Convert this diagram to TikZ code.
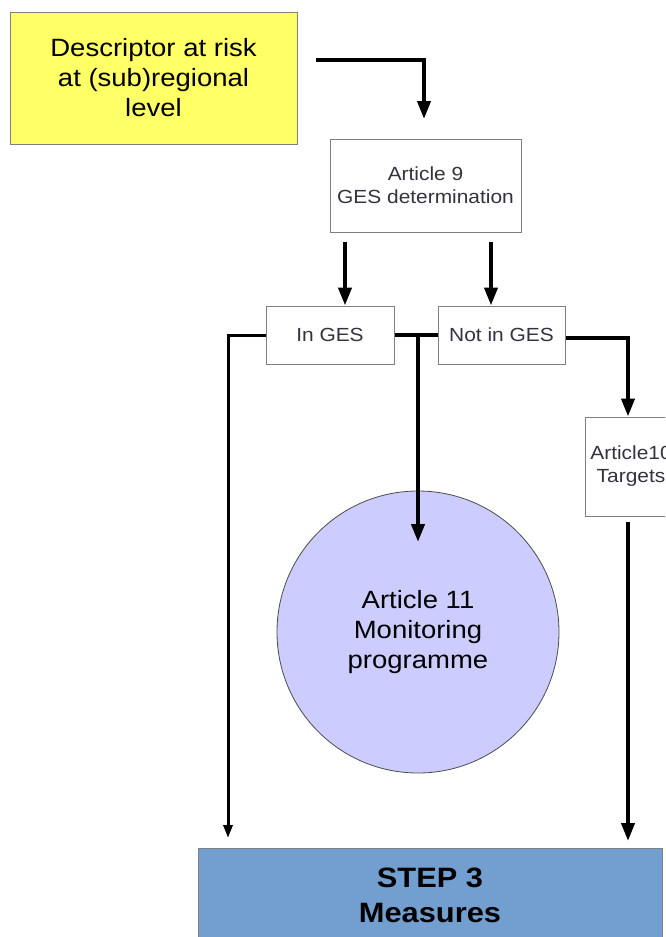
\documentclass[tikz,border=0pt]{standalone}
\usepackage{fontspec}
\setmainfont[FakeStretch=1.1]{Liberation Sans}
\usetikzlibrary{arrows.meta}
\definecolor{yel}{HTML}{FFFF66}
\definecolor{lav}{HTML}{CCCCFF}
\definecolor{stepblue}{HTML}{729FCF}
\definecolor{txtgray}{HTML}{333340}
\definecolor{edgegray}{HTML}{808080}
\begin{document}
\begin{tikzpicture}[x=1pt,y=-1pt,
  smallbox/.style={draw=edgegray, line width=1pt, fill=white, text=txtgray, align=center, font=\fontsize{19}{23}\selectfont, inner sep=0pt},
  thick arr/.style={line width=4pt, -{Triangle[length=18pt,width=13pt]}},
  thin arr/.style={line width=3pt, -{Triangle[length=13pt,width=9pt]}},
  plain/.style={line width=4pt}]
\useasboundingbox (0,0) rectangle (665,937);
\clip (0,0) rectangle (665,937);
\node[draw=edgegray, line width=1pt, fill=yel, minimum width=287pt, minimum height=132pt, align=center, font=\fontsize{25}{30}\selectfont, inner sep=0pt] (desc) at (153.5,78) {Descriptor at risk\\at (sub)regional\\level};
\node[smallbox, minimum width=191pt, minimum height=93pt] (art9) at (425.5,185.5) {Article 9\\GES determination};
\node[smallbox, minimum width=128pt, minimum height=58pt] (ines) at (330,335) {In GES};
\node[smallbox, minimum width=127pt, minimum height=58pt] (nges) at (501.5,335) {Not in GES};
\node[smallbox, minimum width=92pt, minimum height=99pt] (art10) at (631,466.5) {Article10\\Targets};
\node[circle, draw=black!70, line width=0.8pt, fill=lav, minimum size=282pt, align=center, font=\fontsize{25}{30}\selectfont, inner sep=0pt] (mon) at (418,632) {Article 11\\Monitoring\\programme};
\node[draw=edgegray, line width=1pt, fill=stepblue, minimum width=464pt, minimum height=94pt, align=center, font=\fontsize{28}{35}\selectfont\bfseries, inner sep=0pt] (step) at (430,895) {STEP 3\\Measures};
% free ends
\coordinate (s1) at (316,60);
\coordinate (e1) at (424,119);
\coordinate (a9l) at (345,242);
\coordinate (a9r) at (491,242);
\coordinate (mid) at (418,335);
\coordinate (monin) at (418,542);
\coordinate (lft) at (228,838);
\coordinate (a10b) at (628,522);
\coordinate (rgt) at (628,841);
% connectors
\draw[thick arr] (s1) -| (e1);
\draw[thick arr] (a9l) -- (a9l |- ines.north) ;
\draw[thick arr] (a9r) -- (a9r |- nges.north);
\draw[thin arr] (ines.west) -| (lft);
\draw[plain] (ines.east) -- (nges.west);
\draw[thick arr] (mid) -- (monin);
\draw[thick arr] ([yshift=-3pt]nges.east) -| (a10b |- art10.north);
\draw[thick arr] (a10b) -- (rgt);
\end{tikzpicture}
\end{document}
